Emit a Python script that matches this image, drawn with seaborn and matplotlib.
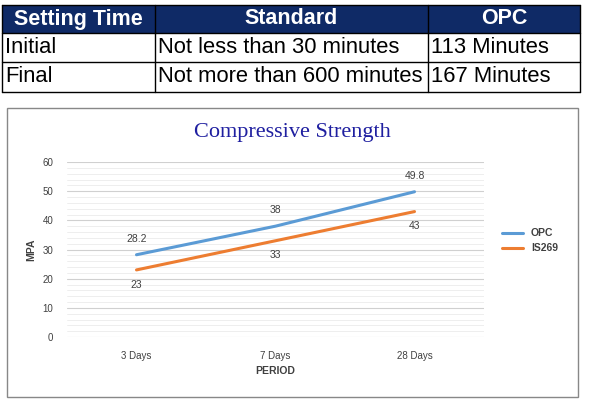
import matplotlib
matplotlib.use("Agg")
import matplotlib.pyplot as plt
import seaborn as sns
import pandas as pd
from matplotlib.patches import Rectangle
from matplotlib.lines import Line2D

periods = ["3 Days", "7 Days", "28 Days"]
opc = [28.2, 38, 49.8]
is269 = [23, 33, 43]
tbl_header = ["Setting Time", "Standard", "OPC"]
tbl_rows = [["Initial", "Not less than 30 minutes", "113 Minutes"],
            ["Final", "Not more than 600 minutes", "167 Minutes"]]

sns.set_theme(style="white")
plt.rcParams['font.family'] = ['Liberation Sans', 'DejaVu Sans']
W, H = 590, 403
fig = plt.figure(figsize=(5.9, 4.03), dpi=100)

def fx(x): return x / W
def fy(y): return 1 - y / H

# table
cols = [2, 155, 428, 580]
rows = [5, 33, 62, 92]
fig.patches.append(Rectangle((fx(2), fy(33)), fx(578), (28) / H, transform=fig.transFigure,
                             facecolor="#0F2A66", edgecolor="none", zorder=-5))
for c in cols:
    fig.add_artist(Line2D([fx(c), fx(c)], [fy(5), fy(92)], color="black", lw=1))
for r in rows:
    fig.add_artist(Line2D([fx(2), fx(580)], [fy(r), fy(r)], color="black", lw=1))
for i, h in enumerate(tbl_header):
    fig.text(fx((cols[i] + cols[i+1]) / 2), fy(19), h, ha="center", va="center",
             color="white", fontsize=15.5, fontweight="bold")
for j, row in enumerate(tbl_rows):
    for i, v in enumerate(row):
        fig.text(fx(cols[i] + 3), fy((rows[j+1] + rows[j+2]) / 2), v, ha="left",
                 va="center", color="black", fontsize=15.8)

# chart box
fig.patches.append(Rectangle((fx(7), fy(397)), (571) / W, (289) / H, transform=fig.transFigure,
                             facecolor="white", edgecolor="#888888", lw=1, zorder=-5))
fig.text(fx(292), fy(133), "Compressive Strength", ha="center", va="center",
         fontsize=16, color="#1F1FA0", family=["Liberation Serif", "DejaVu Serif"])

ax = fig.add_axes([fx(67), fy(337), (484 - 67) / W, 175 / H])
ax.set_zorder(5)
ax.patch.set_alpha(0)
df = pd.DataFrame({"PERIOD": periods * 2, "MPA": opc + is269,
                   "series": ["OPC"] * 3 + ["IS269"] * 3})
sns.lineplot(data=df, x="PERIOD", y="MPA", hue="series", ax=ax,
             palette=["#5B9BD5", "#ED7D31"], lw=2.2, sort=False)
ax.set_xlim(-0.5, 2.5)
ax.set_ylim(0, 60)
ax.set_yticks(range(0, 61, 10))
ax.set_yticks(range(0, 61, 2), minor=True)
ax.grid(axis="y", which="major", color="#D0D0D0", lw=0.8)
ax.grid(axis="y", which="minor", color="#EBEBEB", lw=0.6)
ax.set_axisbelow(True)
for s in ax.spines.values():
    s.set_visible(False)
ax.tick_params(axis="both", labelsize=7, colors="#404040", length=0, pad=10)
ax.set_xlabel("PERIOD", fontsize=7.5, fontweight="bold", color="#404040")
ax.set_ylabel("MPA", fontsize=7.5, fontweight="bold", color="#404040")
for i, v in enumerate(opc):
    ax.annotate(f"{v:g}", (i, v), xytext=(0, 8), textcoords="offset points",
                ha="center", va="bottom", fontsize=7.5, color="#404040")
for i, v in enumerate(is269):
    ax.annotate(f"{v:g}", (i, v), xytext=(0, -7), textcoords="offset points",
                ha="center", va="top", fontsize=7.5, color="#404040")
leg = ax.legend(loc="center left", bbox_to_anchor=(1.02, 0.55), frameon=False,
                prop={"size": 7.5, "weight": "bold"}, handlelength=2)
for t in leg.get_texts():
    t.set_color("#404040")
fig.savefig("out.png", dpi=100)
